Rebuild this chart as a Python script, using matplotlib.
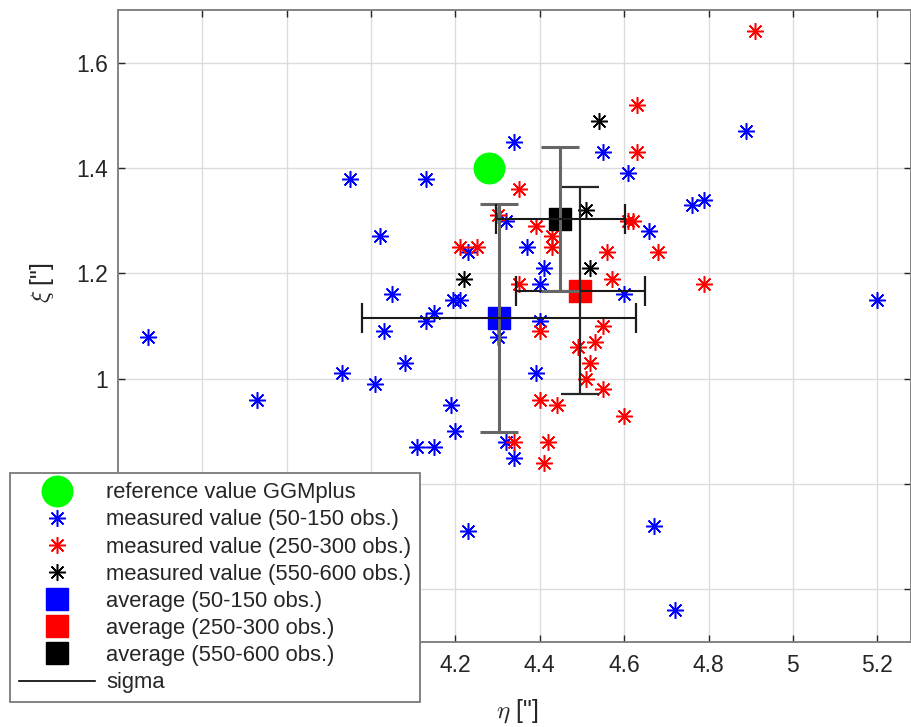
import matplotlib
matplotlib.use("Agg")
import matplotlib.pyplot as plt
from matplotlib.lines import Line2D

plt.rcParams['font.family'] = ['Liberation Sans', 'DejaVu Sans']
plt.rcParams['mathtext.fontset'] = 'cm'

# reference value
ref_x = [4.28]
ref_y = [1.40]

# measured values (50-150 obs.)
blue_x = [3.47, 3.73, 3.95, 4.02, 4.05, 4.03, 4.08, 3.93, 4.01, 4.11, 4.15, 4.19, 4.20,
          4.32, 4.34, 4.39, 4.30, 4.40, 4.13, 4.15, 4.195, 4.21, 4.23, 4.34, 4.13, 4.32,
          4.37, 4.41, 4.40, 4.55, 4.61, 4.76, 4.79, 4.66, 4.60, 4.89, 5.20, 4.23, 4.67, 4.72]
blue_y = [1.08, 0.96, 1.38, 1.27, 1.16, 1.09, 1.03, 1.01, 0.99, 0.87, 0.87, 0.95, 0.90,
          0.88, 0.85, 1.01, 1.08, 1.11, 1.11, 1.125, 1.15, 1.15, 1.24, 1.45, 1.38, 1.30,
          1.25, 1.21, 1.18, 1.43, 1.39, 1.33, 1.34, 1.28, 1.16, 1.47, 1.15, 0.71, 0.72, 0.56]

# measured values (250-300 obs.)
red_x = [4.63, 4.63, 4.35, 4.30, 4.39, 4.43, 4.43, 4.21, 4.25, 4.56, 4.68, 4.61, 4.62,
         4.57, 4.35, 4.55, 4.40, 4.49, 4.53, 4.52, 4.51, 4.55, 4.40, 4.44, 4.60, 4.34,
         4.42, 4.41, 4.91, 4.79]
red_y = [1.52, 1.43, 1.36, 1.31, 1.29, 1.27, 1.25, 1.25, 1.25, 1.24, 1.24, 1.30, 1.30,
         1.19, 1.18, 1.10, 1.09, 1.06, 1.07, 1.03, 1.00, 0.98, 0.96, 0.95, 0.93, 0.88,
         0.88, 0.84, 1.66, 1.18]

# measured values (550-600 obs.)
black_x = [4.54, 4.51, 4.52, 4.22]
black_y = [1.49, 1.32, 1.21, 1.19]

# averages and sigma
avg_x = [4.303, 4.496, 4.449]
avg_y = [1.115, 1.167, 1.303]
sig_x = [0.325, 0.153, 0.152]
sig_y = [0.216, 0.196, 0.136]
avg_colors = ['#0000ff', '#ff0000', '#000000']

# ticks (labels hidden under the legend are left blank)
x_ticks = [3.6, 3.8, 4.0, 4.2, 4.4, 4.6, 4.8, 5.0, 5.2]
x_tick_labels = ['', '', '', '4.2', '4.4', '4.6', '4.8', '5', '5.2']
y_ticks = [0.6, 0.8, 1.0, 1.2, 1.4, 1.6]
y_tick_labels = ['', '', '1', '1.2', '1.4', '1.6']

labels = ['reference value GGMplus',
          'measured value (50-150 obs.)',
          'measured value (250-300 obs.)',
          'measured value (550-600 obs.)',
          'average (50-150 obs.)',
          'average (250-300 obs.)',
          'average (550-600 obs.)',
          'sigma']

W, H = 912, 727
fig = plt.figure(figsize=(W / 100, H / 100), dpi=100)
ax = fig.add_axes([118 / W, (H - 642) / H, (911 - 118) / W, (642 - 10) / H])

ast = (8, 2, 0)
ms_ast = 12
h_ref, = ax.plot(ref_x, ref_y, 'o', color='#00ff00', ms=22, mec='#00ff00', linestyle='none')
h_b, = ax.plot(blue_x, blue_y, marker=ast, color='#0000ff', ms=ms_ast, mew=1.1, linestyle='none')
h_r, = ax.plot(red_x, red_y, marker=ast, color='#ff0000', ms=ms_ast, mew=1.1, linestyle='none')
h_k, = ax.plot(black_x, black_y, marker=ast, color='#000000', ms=ms_ast, mew=1.1, linestyle='none')

sq_handles = []
for i in range(3):
    h, = ax.plot([avg_x[i]], [avg_y[i]], 's', color=avg_colors[i], mec=avg_colors[i], ms=16,
                 linestyle='none')
    sq_handles.append(h)

vcols = ['0.40', '0.15', '0.40']
vlw = [2.2, 1.6, 2.2]
for i in range(3):
    ax.errorbar([avg_x[i]], [avg_y[i]], yerr=[sig_y[i]], fmt='none', ecolor=vcols[i],
                elinewidth=vlw[i], capsize=13.5, capthick=vlw[i], zorder=4)
    ax.errorbar([avg_x[i]], [avg_y[i]], xerr=[sig_x[i]], fmt='none', ecolor='0.1',
                elinewidth=1.5, capsize=11, capthick=1.6, zorder=4)

ax.set_xlim(3.4, 5.28)
ax.set_ylim(0.5, 1.7)
ax.set_xticks(x_ticks)
ax.set_xticklabels(x_tick_labels)
ax.set_yticks(y_ticks)
ax.set_yticklabels(y_tick_labels)
ax.grid(True, color='#dcdcdc', lw=1.0)
ax.set_axisbelow(True)
ax.tick_params(direction='in', length=5, width=1.0, colors='#262626', labelsize=16.5,
               top=True, right=True, pad=9)
ax.tick_params(axis='y', pad=7)
for s in ax.spines.values():
    s.set_color('#7a7a7a')
    s.set_linewidth(1.3)

ax.set_xlabel(r'$\eta$ ["]', fontsize=18, color='#262626')
ax.set_ylabel(r'$\xi$ ["]', fontsize=18, color='#262626')
ax.xaxis.set_label_coords(0.503, -0.088)
ax.yaxis.set_label_coords(-0.078, 0.568)

sigma_handle = Line2D([], [], color='k', lw=1.2)
handles = [h_ref, h_b, h_r, h_k] + sq_handles + [sigma_handle]
leg = fig.legend(handles, labels, loc='upper left', bbox_to_anchor=(10 / W, 1 - 473 / H),
                 bbox_transform=fig.transFigure, fontsize=15.8, frameon=True, fancybox=False,
                 framealpha=1, edgecolor='#7a7a7a', handlelength=3.45, handletextpad=0.5,
                 borderpad=0.42, labelspacing=0.28, borderaxespad=0)
leg.get_frame().set_linewidth(1.3)
for t in leg.get_texts():
    t.set_color('#262626')

fig.savefig('out.png', dpi=100)
